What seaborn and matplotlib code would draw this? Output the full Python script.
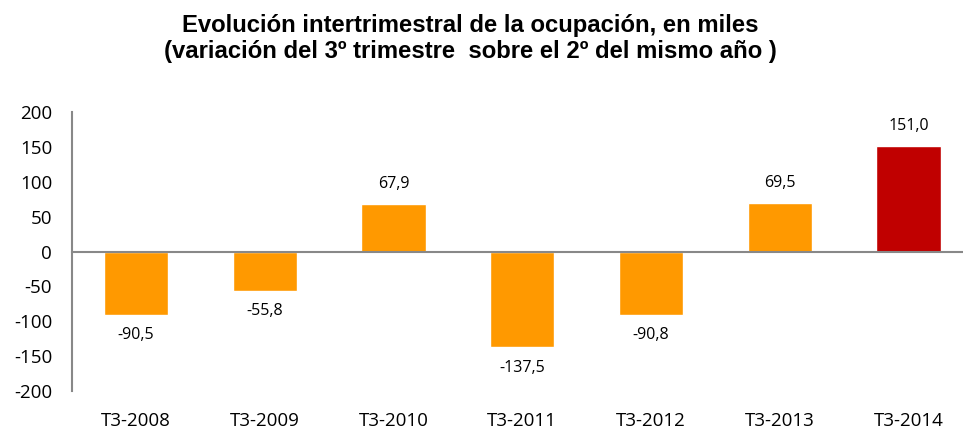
import matplotlib
matplotlib.use("Agg")
import matplotlib.pyplot as plt
import seaborn as sns
import pandas as pd
from matplotlib.ticker import FixedLocator, NullFormatter

categories = ["T3-2008", "T3-2009", "T3-2010", "T3-2011", "T3-2012", "T3-2013", "T3-2014"]
values = [-90.5, -55.8, 67.9, -137.5, -90.8, 69.5, 151.0]
labels = ["-90,5", "-55,8", "67,9", "-137,5", "-90,8", "69,5", "151,0"]
colors = ["#FF9900", "#FF9900", "#FF9900", "#FF9900", "#FF9900", "#FF9900", "#C00000"]
yticks = [-200, -150, -100, -50, 0, 50, 100, 150, 200]

sns.set_style("white")
plt.rcParams['font.family'] = ['Open Sans', 'DejaVu Sans']
plt.rcParams['text.color'] = 'black'

df = pd.DataFrame({"cat": categories, "val": values})
fig = plt.figure(figsize=(9.63, 4.29), dpi=100)
ax = fig.add_axes([0.0743, 0.0886, 0.936, 0.6496])

sns.barplot(data=df, x="cat", y="val", hue="cat", palette=colors, width=0.5,
            legend=False, ax=ax, saturation=1)

ax.set_ylim(-200, 200)
ax.set_xlim(-0.5, len(categories) - 0.5)
ax.set_yticks(yticks)
ax.set_yticklabels([str(t) for t in yticks], fontsize=13.5)
ax.tick_params(axis='y', length=6, width=1.2, color="#888888", labelcolor="black",
               direction='out', pad=8)

for s in ["top", "right"]:
    ax.spines[s].set_visible(False)
for s in ["left", "bottom"]:
    ax.spines[s].set_color("#888888")
    ax.spines[s].set_linewidth(1.5)
ax.spines["bottom"].set_position(("data", 0))

# boundary ticks on zero line
ax.xaxis.set_major_locator(FixedLocator([]))
ax.xaxis.set_minor_locator(FixedLocator([i + 0.5 for i in range(len(categories) - 1)]))
ax.xaxis.set_minor_formatter(NullFormatter())
ax.tick_params(axis='x', which='minor', length=6, width=1.2, color="#888888", direction='out')
ax.set_xlabel("")
ax.set_ylabel("")

sec = ax.secondary_xaxis(0)
sec.set_xticks(range(len(categories)))
sec.set_xticklabels(categories, fontsize=13.5)
sec.tick_params(length=0, pad=15, labelcolor="black")
sec.spines["bottom"].set_visible(False)

for i, (v, lab) in enumerate(zip(values, labels)):
    if v >= 0:
        ax.annotate(lab, (i, v), xytext=(0, 9), textcoords="offset points",
                    ha="center", va="bottom", fontsize=11.5, color="black")
    else:
        ax.annotate(lab, (i, v), xytext=(0, -9), textcoords="offset points",
                    ha="center", va="top", fontsize=11.5, color="black")

fig.text(0.488, 0.91, "Evolución intertrimestral de la ocupación, en miles\n(variación del 3º trimestre  sobre el 2º del mismo año )",
         ha="center", va="center", fontsize=17.2, fontweight="bold", color="black",
         family=["Liberation Sans", "DejaVu Sans"], linespacing=1.2)

fig.savefig("out.png", dpi=100)
